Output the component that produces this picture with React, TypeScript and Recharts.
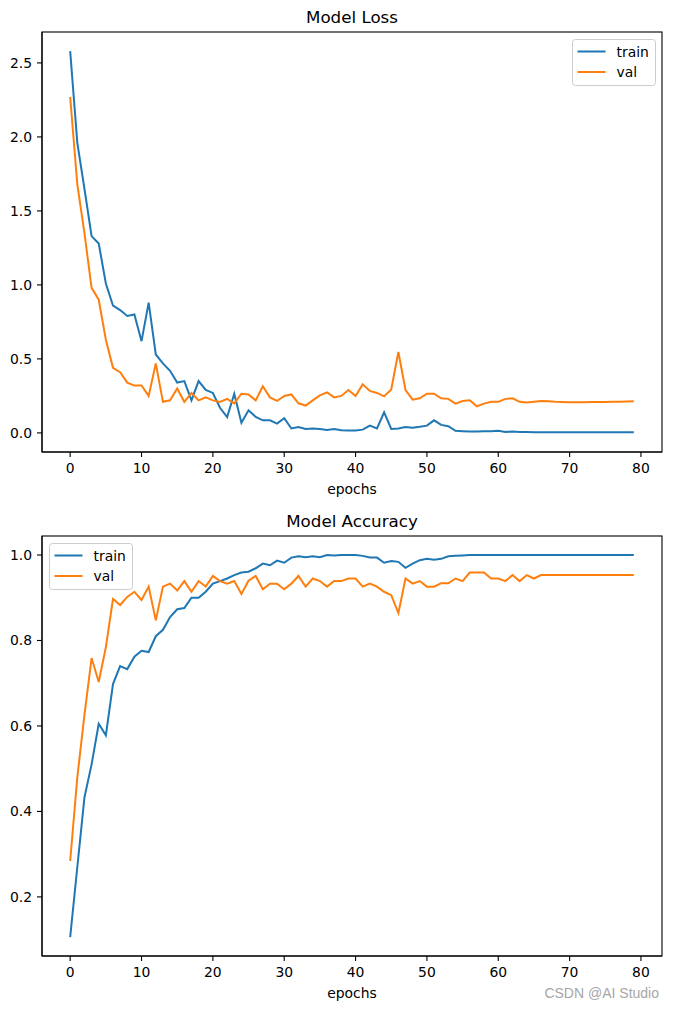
import React from 'react';
import { LineChart, Line, XAxis, YAxis } from 'recharts';

const epochs = Array.from({ length: 80 }, (_, i) => i);

const lossTrain = [
  2.58, 1.96, 1.65, 1.33, 1.28, 1.01, 0.86, 0.83, 0.79, 0.8,
  0.62, 0.88, 0.53, 0.47, 0.42, 0.34, 0.35, 0.22, 0.35, 0.29,
  0.27, 0.17, 0.107, 0.265, 0.068, 0.153, 0.108, 0.085, 0.085, 0.063,
  0.1, 0.03, 0.04, 0.027, 0.03, 0.027, 0.02, 0.027, 0.018, 0.016,
  0.016, 0.022, 0.049, 0.03, 0.139, 0.027, 0.03, 0.04, 0.035, 0.041,
  0.049, 0.085, 0.054, 0.045, 0.014, 0.011, 0.009, 0.009, 0.011, 0.011,
  0.014, 0.007, 0.009, 0.006, 0.006, 0.005, 0.005, 0.005, 0.005, 0.005,
  0.005, 0.005, 0.005, 0.005, 0.004, 0.004, 0.004, 0.004, 0.004, 0.004,
];

const lossVal = [
  2.27, 1.68, 1.35, 0.98, 0.9, 0.63, 0.44, 0.41, 0.34, 0.32,
  0.32, 0.25, 0.47, 0.21, 0.22, 0.3, 0.21, 0.27, 0.22, 0.24,
  0.22, 0.209, 0.23, 0.2, 0.265, 0.26, 0.22, 0.315, 0.24, 0.216,
  0.25, 0.26, 0.2, 0.185, 0.22, 0.254, 0.274, 0.24, 0.25, 0.29,
  0.25, 0.328, 0.284, 0.27, 0.247, 0.293, 0.547, 0.29, 0.225, 0.234,
  0.265, 0.265, 0.234, 0.23, 0.198, 0.216, 0.22, 0.18, 0.198, 0.21,
  0.21, 0.23, 0.234, 0.21, 0.205, 0.21, 0.216, 0.214, 0.21, 0.209,
  0.208, 0.208, 0.208, 0.209, 0.209, 0.209, 0.21, 0.211, 0.212, 0.214,
];

const accTrain = [
  0.106, 0.27, 0.433, 0.51, 0.605, 0.578, 0.698, 0.74, 0.733, 0.762,
  0.776, 0.773, 0.81, 0.825, 0.855, 0.873, 0.876, 0.9, 0.9, 0.914,
  0.933, 0.939, 0.945, 0.953, 0.959, 0.961, 0.969, 0.98, 0.976, 0.987,
  0.982, 0.994, 0.997, 0.995, 0.997, 0.995, 1.0, 0.999, 1.0, 1.0,
  1.0, 0.998, 0.994, 0.994, 0.982, 0.986, 0.984, 0.97, 0.98, 0.988,
  0.991, 0.989, 0.991, 0.997, 0.998, 0.999, 1.0, 1.0, 1.0, 1.0,
  1.0, 1.0, 1.0, 1.0, 1.0, 1.0, 1.0, 1.0, 1.0, 1.0,
  1.0, 1.0, 1.0, 1.0, 1.0, 1.0, 1.0, 1.0, 1.0, 1.0,
];

const accVal = [
  0.284, 0.48, 0.626, 0.759, 0.703, 0.784, 0.897, 0.883, 0.902, 0.914,
  0.895, 0.926, 0.847, 0.926, 0.933, 0.917, 0.939, 0.914, 0.939, 0.926,
  0.951, 0.939, 0.933, 0.939, 0.909, 0.94, 0.951, 0.92, 0.933, 0.933,
  0.92, 0.933, 0.951, 0.926, 0.945, 0.939, 0.926, 0.939, 0.939, 0.945,
  0.945, 0.926, 0.933, 0.926, 0.914, 0.906, 0.864, 0.945, 0.933, 0.939,
  0.926, 0.926, 0.934, 0.934, 0.945, 0.939, 0.959, 0.959, 0.959, 0.945,
  0.945, 0.939, 0.953, 0.939, 0.953, 0.945, 0.953, 0.953, 0.953, 0.953,
  0.953, 0.953, 0.953, 0.953, 0.953, 0.953, 0.953, 0.953, 0.953, 0.953,
];

const xTicks = [0, 10, 20, 30, 40, 50, 60, 70, 80];
const lossTicks = [0, 0.5, 1.0, 1.5, 2.0, 2.5];
const accTicks = [0.2, 0.4, 0.6, 0.8, 1.0];

const BLUE = '#1f77b4';
const ORANGE = '#ff7f0e';
const FONT = 'DejaVu Sans';
const X_DOMAIN: [number, number] = [-3.95, 82.95];

const lossData = epochs.map((e, i) => ({ epoch: e, train: lossTrain[i], val: lossVal[i] }));
const accData = epochs.map((e, i) => ({ epoch: e, train: accTrain[i], val: accVal[i] }));

const tickStyle = { fill: '#000', fontSize: 13.9, fontFamily: FONT };
const axisLine = { stroke: '#000', strokeWidth: 1.1 };

// plot area inside each 675x504 panel
const PLOT = { left: 42, top: 32, width: 620, height: 420 };

function Panel({ data, yDomain, yTicks }: { data: any[]; yDomain: [number, number]; yTicks: number[] }) {
  return (
    <LineChart width={675} height={504} data={data} margin={{ top: 32, right: 13, bottom: 0, left: 0 }}>
      <XAxis
        dataKey="epoch"
        type="number"
        domain={X_DOMAIN}
        ticks={xTicks}
        allowDataOverflow
        height={52}
        tick={tickStyle}
        axisLine={axisLine}
        tickLine={axisLine}
        tickSize={5}
        tickMargin={6}
        interval={0}
      />
      <YAxis
        type="number"
        domain={yDomain}
        ticks={yTicks}
        allowDataOverflow
        width={42}
        tick={tickStyle}
        axisLine={axisLine}
        tickLine={axisLine}
        tickSize={5}
        tickMargin={5}
        interval={0}
        tickFormatter={(v: number) => v.toFixed(1)}
      />
      <Line type="linear" dataKey="train" stroke={BLUE} strokeWidth={2} dot={false} isAnimationActive={false} />
      <Line type="linear" dataKey="val" stroke={ORANGE} strokeWidth={2} dot={false} isAnimationActive={false} />
    </LineChart>
  );
}

function LegendBox({ x, y }: { x: number; y: number }) {
  const rows = [
    { name: 'train', color: BLUE },
    { name: 'val', color: ORANGE },
  ];
  return (
    <g>
      <rect x={x} y={y} width={83} height={46} rx={3} fill="#fff" fillOpacity={0.8} stroke="#cccccc" strokeWidth={1} />
      {rows.map((r, i) => (
        <g key={r.name}>
          <line x1={x + 5} x2={x + 33} y1={y + 12 + i * 20.5} y2={y + 12 + i * 20.5} stroke={r.color} strokeWidth={2} />
          <text x={x + 44} y={y + 17 + i * 20.5} fontSize={13.9} fontFamily={FONT} fill="#000">
            {r.name}
          </text>
        </g>
      ))}
    </g>
  );
}

export default function App() {
  return (
    <div style={{ position: 'absolute', left: 0, top: 0, width: 675, height: 1009, background: '#fff' }}>
      <div style={{ position: 'absolute', left: 0, top: 0 }}>
        <Panel data={lossData} yDomain={[-0.129, 2.709]} yTicks={lossTicks} />
      </div>
      <div style={{ position: 'absolute', left: 0, top: 504 }}>
        <Panel data={accData} yDomain={[0.0617, 1.0445]} yTicks={accTicks} />
      </div>
      <svg width={675} height={1009} style={{ position: 'absolute', left: 0, top: 0, pointerEvents: 'none' }}>
        {/* axes frames (top and right spines) */}
        <rect x={PLOT.left} y={PLOT.top} width={PLOT.width} height={PLOT.height} fill="none" stroke="#000" strokeWidth={1.1} />
        <rect x={PLOT.left} y={PLOT.top + 504} width={PLOT.width} height={PLOT.height} fill="none" stroke="#000" strokeWidth={1.1} />
        <text x={352} y={23.3} textAnchor="middle" fontSize={16.7} fontFamily={FONT} fill="#000">Model Loss</text>
        <text x={352} y={493.5} textAnchor="middle" fontSize={13.9} fontFamily={FONT} fill="#000">epochs</text>
        <text x={352} y={527.3} textAnchor="middle" fontSize={16.7} fontFamily={FONT} fill="#000">Model Accuracy</text>
        <text x={352} y={997.5} textAnchor="middle" fontSize={13.9} fontFamily={FONT} fill="#000">epochs</text>
        <LegendBox x={572.5} y={39.5} />
        <LegendBox x={49.5} y={543.5} />
        <text x={659} y={998} textAnchor="end" fontSize={14} fontFamily="Liberation Sans" fill="#a6a6a6">CSDN @AI Studio</text>
      </svg>
    </div>
  );
}
